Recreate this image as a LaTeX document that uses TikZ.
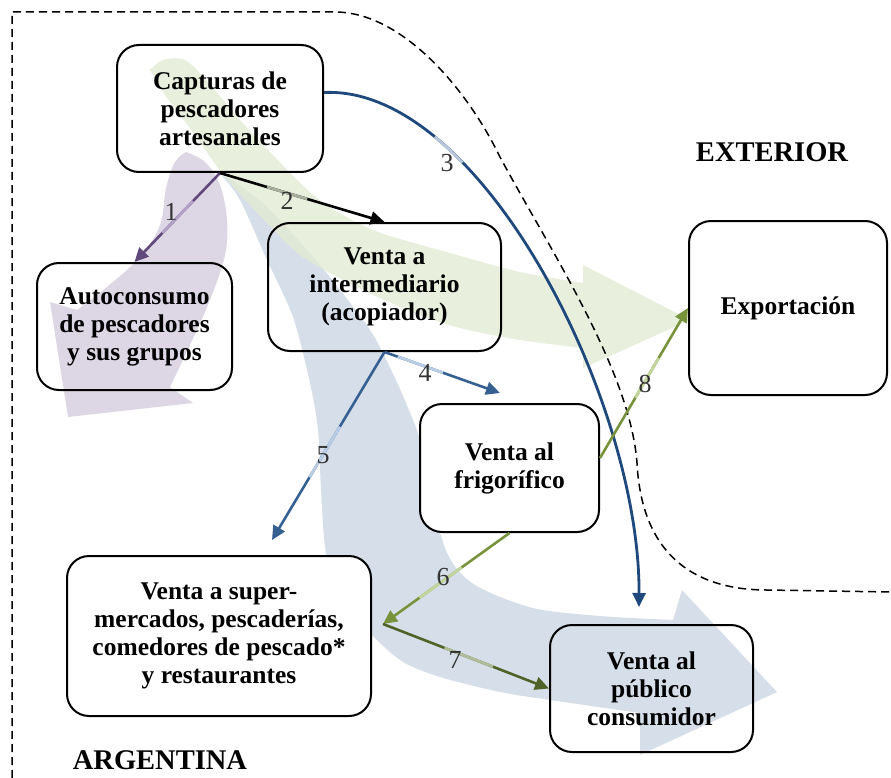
\documentclass[tikz,border=0pt]{standalone}
\usepackage{fontspec}
\setmainfont{Liberation Serif}
\usetikzlibrary{arrows.meta,calc}
\definecolor{bgblue}{HTML}{D6DFE9}
\definecolor{bggreen}{HTML}{E2EBD3}
\definecolor{bgpurple}{HTML}{D9D3E2}
\definecolor{cpurple}{HTML}{60497A}
\definecolor{lpurple}{HTML}{B3A2C7}
\definecolor{cdblue}{HTML}{1F497D}
\definecolor{ldblue}{HTML}{B9C7DA}
\definecolor{cblue}{HTML}{366092}
\definecolor{lblue}{HTML}{B9CDE5}
\definecolor{cgreen}{HTML}{77933C}
\definecolor{lgreen}{HTML}{C3D69B}
\definecolor{cdgreen}{HTML}{4F6228}
\definecolor{ldgreen}{HTML}{B3BC9A}
\definecolor{lgray}{HTML}{A9AE9E}
\definecolor{numgray}{HTML}{333333}
\begin{document}
\begin{tikzpicture}[x=1pt,y=-1pt,
  box/.style={draw=black, line width=2pt, rounded corners=22pt, align=center,
    inner sep=0pt, font=\bfseries\fontsize{25.5}{28}\selectfont},
  conn/.style={line width=2.6pt, -{Triangle[length=14pt,width=13pt]}},
  litepart/.style={line width=2.7pt},
  num/.style={font=\fontsize{26}{26}\selectfont, text=numgray, inner sep=0pt},
  region/.style={font=\bfseries\fontsize{28.5}{30}\selectfont, inner sep=0pt}
]
\useasboundingbox (0,0) rectangle (891,778);

% background flow arrows
\fill[bgblue] plot[smooth] coordinates {(222,176) (240,200) (267,260) (293,317) (310,383) (318,430) (321,490) (325,547) (335,590) (360,623) (400,660) (440,677) (500,692) (550,700) (640,713)}
  -- (640,755) -- (777,692) -- (682,590)
  -- plot[smooth] coordinates {(673,620) (600,616) (533,608) (475,585) (448,555) (432,500) (420,440) (408,408) (395,378) (370,330) (320,265) (270,210) (235,182) (222,176)} -- cycle;
\fill[bggreen, fill opacity=.8] plot[smooth] coordinates {(150,70) (163,60) (185,60) (208,82) (240,120) (270,152) (317,198) (373,230) (450,253) (520,272) (583,283)}
  -- (583,265) -- (690,320) -- (583,368)
  -- plot[smooth] coordinates {(583,348) (520,340) (460,328) (420,315) (380,298) (343,280) (300,255) (267,223) (225,177) (195,135) (165,95) (150,70)} -- cycle;
\fill[bgpurple, fill opacity=.9] plot[smooth, tension=.6] coordinates {(186,152) (205,162) (220,185) (227,220) (225,255) (210,300) (190,345) (170,387)}
  -- (193,403) -- (68,417) -- (50,302)
  -- plot[smooth, tension=.6] coordinates {(77,310) (107,287) (140,257) (160,225) (166,188) (175,162) (186,152)} -- cycle;

% boundary
\draw[line width=1.5pt, dash pattern=on 8pt off 5pt] (12,778) -- (12,12) -- (335,12)
  .. controls (400,12) and (465,85) .. (500,157)
  .. controls (550,250) and (630,370) .. (637,463)
  .. controls (642,560) and (700,590) .. (767,590) -- (891,592);

% boxes
\node[box, minimum width=206pt, minimum height=127pt] (cap) at (220,108.5) {Capturas de\\pescadores\\artesanales};
\node[box, minimum width=195pt, minimum height=127pt] (auto) at (134.5,326.5) {Autoconsumo\\de pescadores\\y sus grupos};
\node[box, minimum width=233pt, minimum height=128pt] (inter) at (384.5,287) {Venta a\\intermediario\\(acopiador)};
\node[box, minimum width=198pt, minimum height=174pt] (exp) at (788,308) {Exportación};
\node[box, fill=white, minimum width=179pt, minimum height=128pt] (frig) at (509.5,468) {Venta al\\frigorífico};
\node[box, fill=white, minimum width=304pt, minimum height=160pt] (super) at (219,636) {Venta a super-\\mercados, pescaderías,\\comedores de pescado*\\y restaurantes};
\node[box, minimum width=203pt, minimum height=127pt] (pub) at (651.5,688.5) {Venta al\\público\\consumidor};

\node[region] (ext) at (772,152) {EXTERIOR};
\node[region] (arg) at (160,760) {ARGENTINA};

% free ends
\coordinate (s3) at ([yshift=16pt]cap.east);
\coordinate (e3) at (639,607);
\coordinate (e4) at (500,393);
\coordinate (e5) at (272,540);
\coordinate (j) at (383,624);
\coordinate (s8) at ([yshift=10pt]frig.east);

% connectors
\draw[conn, cpurple] (cap.south) -- (auto.north);
\draw[litepart, lpurple, dash pattern=on 0pt off 39pt on 44pt off 3000pt] (cap.south) -- (auto.north);
\draw[conn, black] (cap.south) -- (inter.north);
\draw[litepart, lgray, dash pattern=on 0pt off 49pt on 42pt off 3000pt] (cap.south) -- (inter.north);
\draw[conn, cdblue, line width=2.8pt] (s3) .. controls (480,85) and (640,400) .. (e3);
\draw[litepart, ldblue, line width=2.9pt, dash pattern=on 0pt off 122pt on 38pt off 3000pt] (s3) .. controls (480,85) and (640,400) .. (e3);
\draw[conn, cblue] (inter.south) -- (e4);
\draw[litepart, lblue, dash pattern=on 0pt off 14pt on 48pt off 3000pt] (inter.south) -- (e4);
\draw[conn, cblue] (inter.south) -- (e5);
\draw[litepart, lblue, dash pattern=on 0pt off 87pt on 59pt off 3000pt] (inter.south) -- (e5);
\draw[conn, cgreen] (frig.south) -- (j);
\draw[litepart, lgreen, dash pattern=on 0pt off 59pt on 52pt off 3000pt] (frig.south) -- (j);
\draw[conn, cdgreen] (j) -- (pub.west);
\draw[litepart, ldgreen, dash pattern=on 0pt off 66pt on 52pt off 3000pt] (j) -- (pub.west);
\draw[conn, cgreen] (s8) -- (exp.west);
\draw[litepart, lgreen, dash pattern=on 0pt off 70pt on 46pt off 3000pt] (s8) -- (exp.west);

% numbers
\node[num] (n1) at (171,212) {1};
\node[num] (n2) at (287,201) {2};
\node[num] (n3) at (447,163) {3};
\node[num] (n4) at (425,373) {4};
\node[num] (n5) at (323,455) {5};
\node[num] (n6) at (443,577) {6};
\node[num] (n7) at (455,660) {7};
\node[num] (n8) at (645,384) {8};
\end{tikzpicture}
\end{document}
